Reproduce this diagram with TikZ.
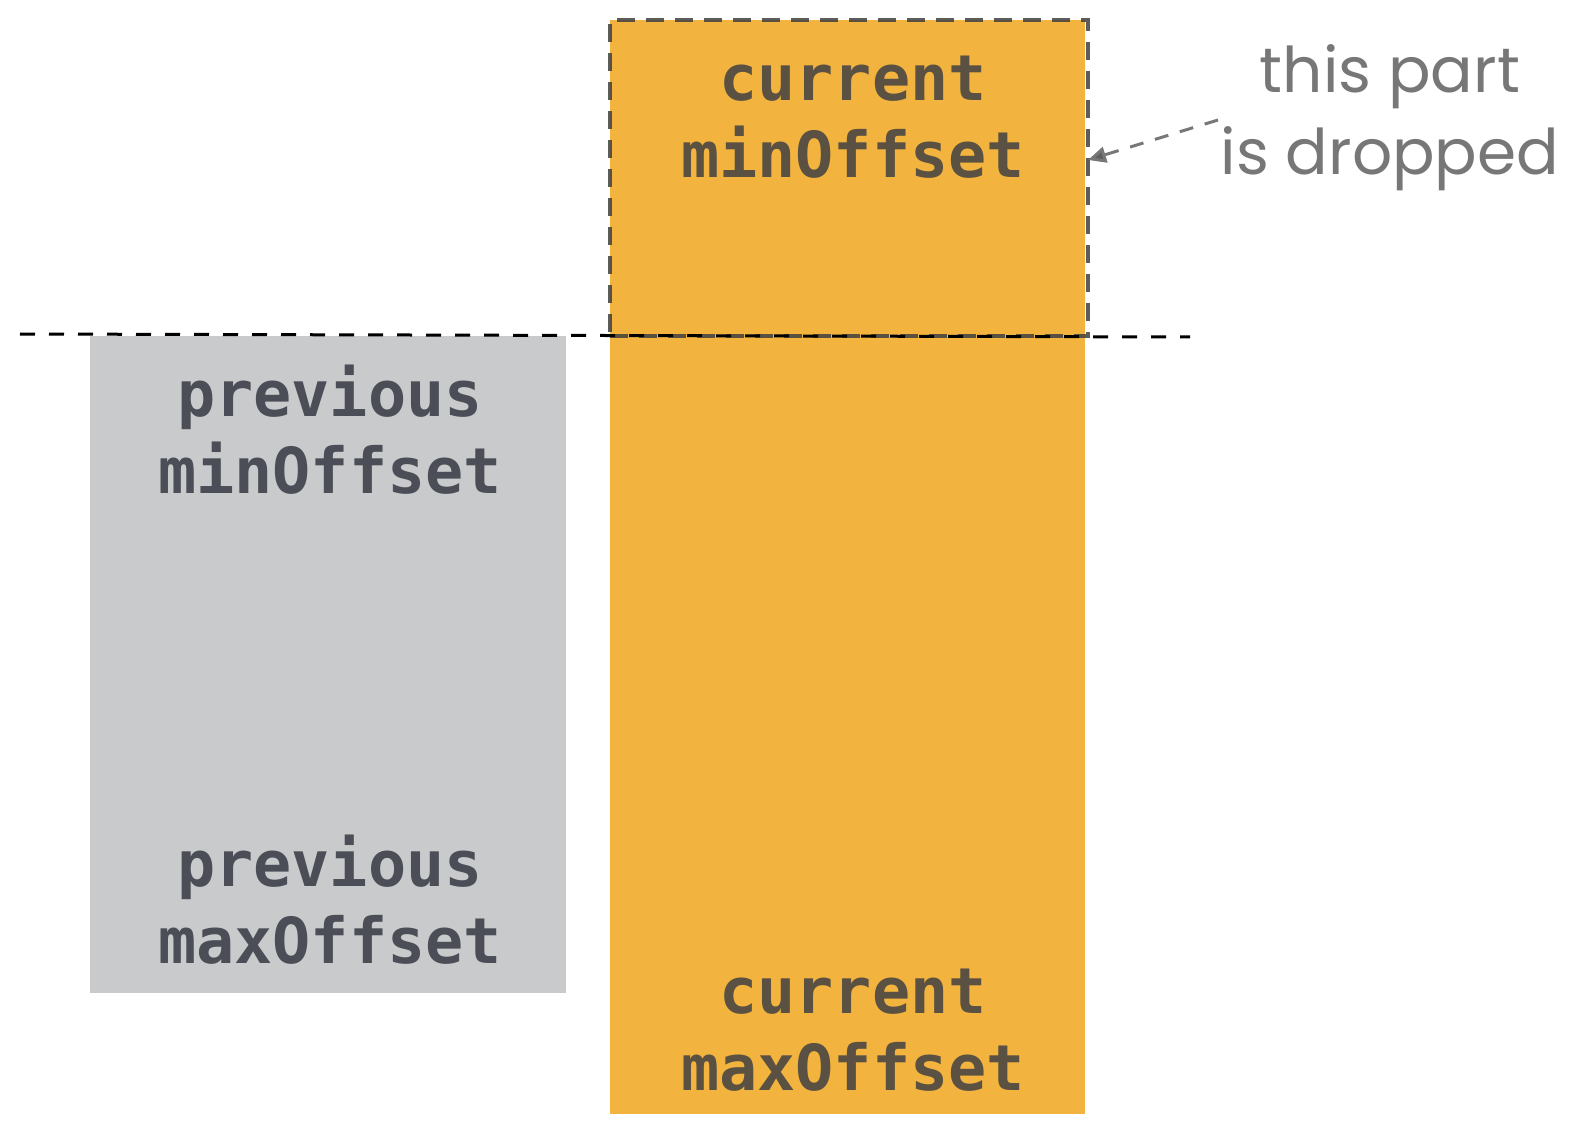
\documentclass[tikz,border=0pt]{standalone}
\usepackage{fontspec}
\setmonofont{DejaVu Sans Mono}
\newfontfamily\handfont{Poppins}
\usetikzlibrary{arrows.meta}
\definecolor{grayfill}{HTML}{C9CACC}
\definecolor{orangefill}{HTML}{F3B43F}
\definecolor{graytext}{HTML}{4B4E56}
\definecolor{orangetext}{HTML}{5A5142}
\definecolor{annot}{HTML}{777777}
\definecolor{dropline}{HTML}{3F3F3F}
\tikzset{
  blockbox/.style={rectangle, inner sep=0pt, outer sep=0pt, draw=none, anchor=north west},
  monolabel/.style={font=\ttfamily\bfseries\fontsize{31.7}{38.5}\selectfont, align=center, inner sep=0pt},
  handlabel/.style={font=\handfont\fontsize{31.5}{41}\selectfont, text=annot, align=center, inner sep=0pt},
}
\begin{document}
\begin{tikzpicture}[x=0.5pt,y=-0.5pt]
\useasboundingbox (0,0) rectangle (1575,1139);
% blocks
\node[blockbox, fill=grayfill, minimum width=238pt, minimum height=328.5pt] (prev) at (90,336) {};
\node[blockbox, fill=orangefill, minimum width=237.5pt, minimum height=547pt] (curr) at (610,20) {};
% dropped part (dashed box)
\node[blockbox, draw=dropline, draw opacity=0.85, line width=2pt, dash pattern=on 9pt off 5.5pt, minimum width=239pt, minimum height=158pt] (drop) at (610,20) {};
% horizontal threshold line
\coordinate (hl) at (20,334);
\coordinate (hr) at (1190,337);
\draw[black, line width=1.5pt, dash pattern=on 7.5pt off 7pt] (hl) -- (hr);
% labels
\node[monolabel, text=orangetext] (cmin) at (853,117) {current\\minOffset};
\node[monolabel, text=graytext] (pmin) at (330,430) {previous\\minOffset};
\node[monolabel, text=graytext] (pmax) at (330,900) {previous\\maxOffset};
\node[monolabel, text=orangetext] (cmax) at (853,1030) {current\\maxOffset};
% annotation
\node[handlabel] (note) at (1390,118) {this part\\is dropped};
\coordinate (arrstart) at (1218,120);
\coordinate (arrend) at (1088,160);
\draw[annot, line width=1.5pt, dash pattern=on 7pt off 6pt, -{Triangle[length=9pt,width=8pt,fill=annot!80!black]}] (arrstart) -- (arrend);
\end{tikzpicture}
\end{document}
